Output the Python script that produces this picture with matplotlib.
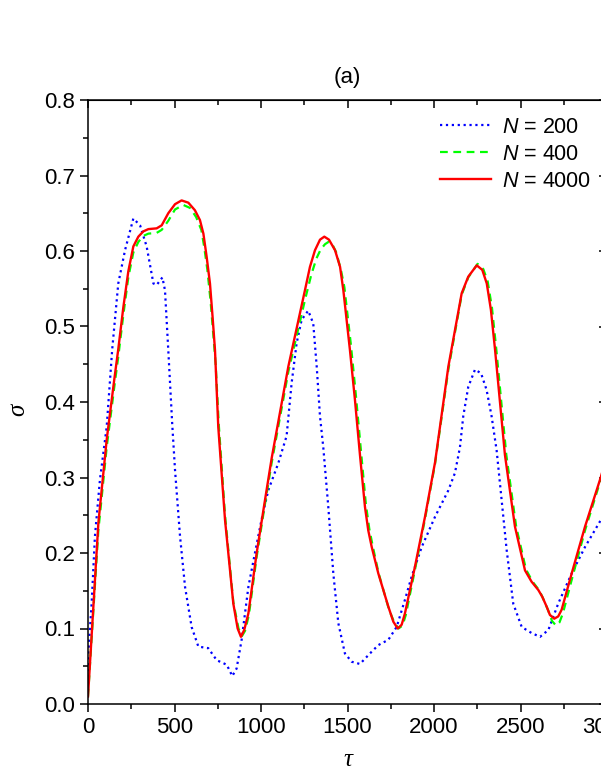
import matplotlib
matplotlib.use("Agg")
import matplotlib.pyplot as plt
from matplotlib.ticker import MultipleLocator

# ---------------------------------------------------------------------------
# Data
# ---------------------------------------------------------------------------
tau_200 = [0, 2, 21, 40, 69, 108, 140, 175, 214, 262, 301, 339, 378, 397, 430,
           445, 464, 487, 503, 532, 561, 599, 638, 695, 744, 802, 834, 859,
           888, 927, 965, 1003, 1042, 1100, 1148, 1177, 1206, 1235, 1273,
           1302, 1322, 1341, 1360, 1389, 1418, 1447, 1485, 1524, 1572, 1630,
           1678, 1736, 1784, 1832, 1871, 1929, 2006, 2083, 2121, 2150, 2169,
           2198, 2237, 2272, 2304, 2333, 2362, 2391, 2420, 2458, 2507, 2564,
           2613, 2661, 2718, 2796, 2873, 2965, 3000]
sigma_200 = [0.02, 0.067, 0.133, 0.222, 0.297, 0.367, 0.47, 0.557, 0.601, 0.643,
             0.634, 0.606, 0.557, 0.555, 0.565, 0.548, 0.469, 0.37, 0.31, 0.222,
             0.155, 0.102, 0.076, 0.074, 0.058, 0.052, 0.037, 0.047, 0.085,
             0.155, 0.2, 0.244, 0.283, 0.319, 0.355, 0.425, 0.478, 0.509, 0.521,
             0.504, 0.447, 0.381, 0.34, 0.261, 0.173, 0.107, 0.067, 0.056,
             0.053, 0.067, 0.078, 0.085, 0.102, 0.138, 0.169, 0.208, 0.248,
             0.283, 0.306, 0.34, 0.381, 0.42, 0.443, 0.438, 0.416, 0.381, 0.336,
             0.27, 0.204, 0.133, 0.102, 0.094, 0.089, 0.098, 0.133, 0.173,
             0.208, 0.244, 0.26]

tau_400 = [0, 60, 108, 152, 175, 204, 233, 262, 291, 320, 349, 397, 426, 464,
           503, 551, 590, 625, 655, 672, 690, 708, 724, 738, 756, 792, 840, 870,
           890, 908, 930, 975, 1023, 1062, 1158, 1254, 1290, 1320, 1345, 1370,
           1390, 1412, 1435, 1462, 1482, 1520, 1548, 1578, 1606, 1626, 1645,
           1680, 1740, 1770, 1795, 1818, 1837, 1890, 1948, 2006, 2083, 2160,
           2198, 2252, 2285, 2310, 2335, 2360, 2418, 2475, 2532, 2570, 2610,
           2634, 2660, 2682, 2705, 2725, 2745, 2800, 2873, 2965, 3000]
sigma_400 = [0.01, 0.23, 0.34, 0.42, 0.46, 0.515, 0.565, 0.598, 0.612, 0.62,
             0.623, 0.624, 0.628, 0.64, 0.655, 0.661, 0.657, 0.645, 0.628, 0.605,
             0.575, 0.535, 0.49, 0.45, 0.37, 0.25, 0.135, 0.1, 0.09, 0.097,
             0.118, 0.195, 0.265, 0.32, 0.44, 0.535, 0.568, 0.59, 0.602, 0.609,
             0.612, 0.609, 0.598, 0.575, 0.552, 0.475, 0.41, 0.335, 0.265,
             0.232, 0.21, 0.173, 0.125, 0.108, 0.1, 0.104, 0.118, 0.178, 0.245,
             0.318, 0.443, 0.542, 0.565, 0.583, 0.576, 0.56, 0.525, 0.47, 0.33,
             0.235, 0.178, 0.162, 0.15, 0.138, 0.124, 0.11, 0.104, 0.108, 0.12,
             0.168, 0.23, 0.298, 0.325]

tau_4000 = [0, 30, 60, 108, 152, 175, 204, 233, 262, 291, 320, 349, 397, 426,
            445, 464, 503, 541, 580, 618, 647, 667, 686, 705, 720, 734, 753,
            792, 840, 865, 884, 903, 927, 975, 1023, 1062, 1158, 1254, 1283,
            1312, 1341, 1366, 1393, 1428, 1457, 1476, 1514, 1543, 1572, 1601,
            1620, 1640, 1678, 1736, 1765, 1790, 1813, 1832, 1890, 1948, 2006,
            2083, 2160, 2198, 2247, 2279, 2305, 2329, 2353, 2410, 2468, 2526,
            2564, 2603, 2626, 2651, 2670, 2695, 2718, 2738, 2796, 2873, 2965,
            3000]
sigma_4000 = [0.01, 0.125, 0.24, 0.35, 0.43, 0.47, 0.525, 0.573, 0.606, 0.619,
              0.626, 0.629, 0.63, 0.634, 0.642, 0.65, 0.662, 0.667, 0.664, 0.654,
              0.641, 0.623, 0.592, 0.557, 0.513, 0.469, 0.367, 0.244, 0.133, 0.1,
              0.089, 0.098, 0.12, 0.2, 0.27, 0.326, 0.447, 0.548, 0.579, 0.601,
              0.615, 0.619, 0.615, 0.601, 0.579, 0.548, 0.469, 0.403, 0.33,
              0.261, 0.23, 0.208, 0.173, 0.129, 0.109, 0.1, 0.105, 0.12, 0.182,
              0.248, 0.32, 0.447, 0.544, 0.566, 0.581, 0.575, 0.557, 0.522,
              0.469, 0.33, 0.235, 0.177, 0.162, 0.151, 0.142, 0.129, 0.118,
              0.113, 0.116, 0.125, 0.173, 0.235, 0.301, 0.33]

# ---------------------------------------------------------------------------
# Figure
# ---------------------------------------------------------------------------
plt.rcParams["font.family"] = ["Liberation Sans", "DejaVu Sans"]
plt.rcParams["mathtext.fontset"] = "custom"
plt.rcParams["mathtext.it"] = "Liberation Sans:italic"
plt.rcParams["mathtext.rm"] = "Liberation Sans"

fig = plt.figure(figsize=(6.01, 7.78), dpi=100)
ax = fig.add_axes([88 / 601, 74 / 778, 519 / 601, 604 / 778])

ax.plot(tau_200, sigma_200, color="#0000ff", linestyle=":", lw=1.6,
        label="$N$ = 200")
ax.plot(tau_400, sigma_400, color="#00ff00", linestyle="--", lw=1.6,
        dashes=(3.5, 2.5), label="$N$ = 400")
ax.plot(tau_4000, sigma_4000, color="#ff0000", linestyle="-", lw=1.7,
        label="$N$ = 4000")

ax.set_xlim(0, 3000)
ax.set_ylim(0.0, 0.8)
ax.xaxis.set_major_locator(MultipleLocator(500))
ax.xaxis.set_minor_locator(MultipleLocator(250))
ax.yaxis.set_major_locator(MultipleLocator(0.1))
ax.yaxis.set_minor_locator(MultipleLocator(0.05))
ax.yaxis.set_major_formatter(plt.FormatStrFormatter("%.1f"))

for sp in ax.spines.values():
    sp.set_linewidth(1.1)
ax.tick_params(which="both", direction="out", width=1.1, labelsize=16)
ax.tick_params(which="major", length=6)
ax.tick_params(which="minor", length=3.5)

# top / right ticks point inward
top = ax.secondary_xaxis("top")
top.xaxis.set_major_locator(MultipleLocator(500))
top.xaxis.set_minor_locator(MultipleLocator(250))
top.tick_params(which="both", direction="in", width=1.1, labeltop=False)
top.tick_params(which="major", length=6)
top.tick_params(which="minor", length=3.5)
right = ax.secondary_yaxis("right")
right.yaxis.set_major_locator(MultipleLocator(0.1))
right.yaxis.set_minor_locator(MultipleLocator(0.05))
right.tick_params(which="both", direction="in", width=1.1, labelright=False)
right.tick_params(which="major", length=6)
right.tick_params(which="minor", length=3.5)

ax.set_xlabel("τ", fontsize=18, family="Liberation Serif", style="italic",
              va="center")
ax.set_ylabel("σ", fontsize=18, family="Liberation Serif", style="italic",
              va="center")
ax.xaxis.set_label_coords(0.5, -0.093)
ax.yaxis.set_label_coords((18 - 88) / 519, (704 - 410) / 604)

ax.text(0.5, (704 - 78) / 604, "(a)", transform=ax.transAxes, ha="center",
        va="center", fontsize=16)

ax.legend(loc="upper left", bbox_to_anchor=(0.678, 0.972), frameon=False,
          fontsize=15.5, handlelength=2.37, handletextpad=0.5,
          labelspacing=0.28, borderpad=0, borderaxespad=0)

fig.savefig("out.png", dpi=100)
